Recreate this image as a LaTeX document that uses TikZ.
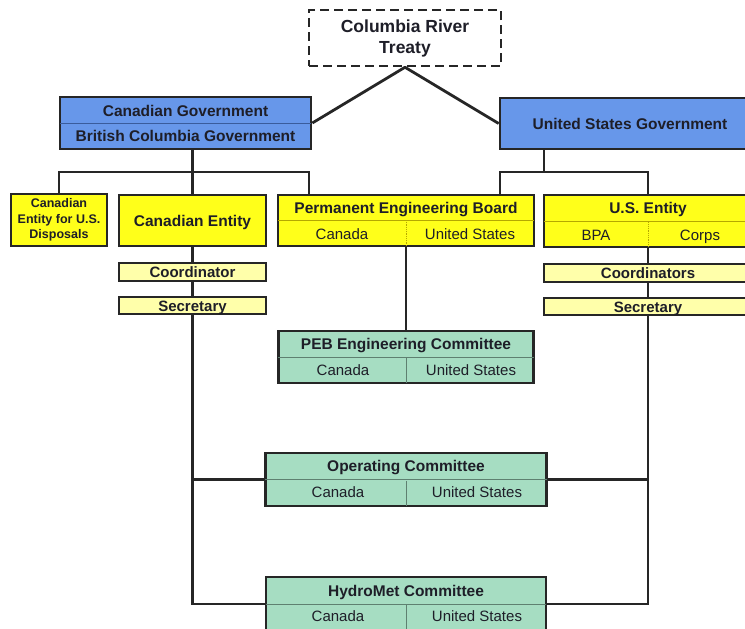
\documentclass[tikz,border=0pt]{standalone}
\usepackage{fontspec}
\setmainfont{Liberation Sans}
\usepackage{tikz}
\usetikzlibrary{backgrounds}
\definecolor{GovBlue}{HTML}{6797EA}
\definecolor{EntityYellow}{HTML}{FFFF1A}
\definecolor{StaffYellow}{HTML}{FFFFAA}
\definecolor{CmteGreen}{HTML}{A6DDC2}
\definecolor{LineDark}{HTML}{262626}
\definecolor{TextDark}{HTML}{1E1E28}
\definecolor{BlueRule}{HTML}{3A5C9C}
\definecolor{YellowRule}{HTML}{B5A800}
\definecolor{GreenRule}{HTML}{5E8070}
\tikzset{
  % Box styles
  govbox/.style={rectangle, draw=LineDark, line width=2.7pt, fill=GovBlue, inner sep=0pt, text=TextDark, text height=11pt, text depth=0pt, font=\bfseries\fontsize{15.5}{18}\selectfont},
  entitybox/.style={govbox, fill=EntityYellow},
  staffbox/.style={govbox, fill=StaffYellow, line width=2pt, font=\bfseries\fontsize{15}{17}\selectfont},
  cmtebox/.style={govbox, fill=CmteGreen},
  treatybox/.style={rectangle, draw=LineDark, line width=2.5pt, dash pattern=on 9pt off 5pt, fill=white, align=center, text=TextDark, font=\bfseries\fontsize{17.5}{21}\selectfont},
  % Text styles
  headtext/.style={inner sep=0pt, text=TextDark, text height=11pt, text depth=0pt, font=\bfseries\fontsize{15.5}{18}\selectfont},
  celltext/.style={inner sep=0pt, text=TextDark, text height=11pt, text depth=0pt, font=\fontsize{15}{18}\selectfont},
  % Line styles
  link/.style={line width=2.8pt, draw=LineDark},
  bluerule/.style={line width=0.8pt, draw=BlueRule, shorten <=1.3pt, shorten >=1.3pt},
  yellowrule/.style={line width=0.8pt, draw=YellowRule, shorten <=1.3pt, shorten >=1.3pt},
  greenrule/.style={line width=0.8pt, draw=GreenRule, shorten <=1.3pt, shorten >=1.3pt}
}
\begin{document}
\begin{tikzpicture}[x=1pt, y=-1pt]
  \useasboundingbox (0,0) rectangle (745,629);
  \clip (0,0) rectangle (745,629);

  % Treaty and governments
  \node[treatybox, minimum width=192pt, minimum height=56pt] (treaty) at (405,38) {Columbia River\\Treaty};
  \node[govbox, minimum width=251pt, minimum height=52pt] (cangov) at (185.5,123) {};
  \node[headtext] (cangovtop) at (185.5,110.5) {Canadian Government};
  \node[headtext] (cangovbot) at (185.5,136) {British Columbia Government};
  \node[govbox, minimum width=260pt, minimum height=51pt] (usgov) at (630,123.5) {United States Government};

  % Entities and board
  \node[entitybox, minimum width=96pt, minimum height=52pt, align=center, text height=, text depth=, font=\bfseries\fontsize{12.5}{15.5}\selectfont] (candisp) at (59,220) {Canadian\\Entity for U.S.\\Disposals};
  \node[entitybox, minimum width=147pt, minimum height=51pt] (canent) at (192.5,220.5) {Canadian Entity};
  \node[entitybox, minimum width=256pt, minimum height=51pt] (peb) at (406,220.5) {};
  \node[headtext] (pebhead) at (406,208) {Permanent Engineering Board};
  \node[celltext] (pebca) at (342,234) {Canada};
  \node[celltext] (pebus) at (470,234) {United States};
  \node[entitybox, minimum width=208pt, minimum height=52pt] (usent) at (648,221) {};
  \node[headtext] (usenthead) at (648,208) {U.S. Entity};
  \node[celltext] (usentbpa) at (596,235) {BPA};
  \node[celltext] (usentcorps) at (700,235) {Corps};

  % Coordinators and secretaries
  \node[staffbox, minimum width=147pt, minimum height=18pt] (cancoord) at (192.5,272) {Coordinator};
  \node[staffbox, minimum width=147pt, minimum height=17pt] (cansec) at (192.5,305.5) {Secretary};
  \node[staffbox, minimum width=208pt, minimum height=18pt] (uscoord) at (648,273) {Coordinators};
  \node[staffbox, minimum width=208pt, minimum height=17pt] (ussec) at (648,306.5) {Secretary};

  % Committees
  \node[cmtebox, minimum width=255pt, minimum height=52pt] (pebcmte) at (406,357) {};
  \node[headtext] (pebcmtehead) at (406,344) {PEB Engineering Committee};
  \node[celltext] (pebcmteca) at (343,369.5) {Canada};
  \node[celltext] (pebcmteus) at (471,369.5) {United States};
  \node[cmtebox, minimum width=281pt, minimum height=53pt] (opcmte) at (406,479.5) {};
  \node[headtext] (opcmtehead) at (406,466) {Operating Committee};
  \node[celltext] (opcmteca) at (338,491.5) {Canada};
  \node[celltext] (opcmteus) at (477,491.5) {United States};
  \node[cmtebox, minimum width=280pt, minimum height=54pt] (hydro) at (406,604) {};
  \node[headtext] (hydrohead) at (406,590.5) {HydroMet Committee};
  \node[celltext] (hydroca) at (338,616) {Canada};
  \node[celltext] (hydrous) at (477,616) {United States};

  % Dividers inside the boxes
  \draw[bluerule] (cangov.west) -- (cangov.east);
  \draw[yellowrule] (peb.west) -- (peb.east);
  \draw[yellowrule, densely dotted] (peb.center) -- (peb.south);
  \draw[yellowrule] (usent.west) -- (usent.east);
  \draw[yellowrule, densely dotted] (usent.center) -- (usent.south);
  \foreach \cmte in {pebcmte, opcmte, hydro} {
    \draw[greenrule] (\cmte.west) -- (\cmte.east);
    \draw[greenrule] (\cmte.center) -- (\cmte.south);
  }

  % Bus points
  \coordinate (canbus) at (192.5,172);
  \coordinate (pebcandrop) at (309,195);
  \coordinate (usbus) at (544,172);
  \coordinate (pebusdrop) at (500,195);

  % Connectors
  \begin{scope}[on background layer]
    \draw[link] (cangov.east) -- (treaty.south) -- (usgov.west);
    \draw[link] (cangov.south -| canbus) -- (canent.north);
    \draw[link] (candisp.north) |- (canbus) -| (pebcandrop);
    \draw[link] (usgov.south -| usbus) -- (usbus);
    \draw[link] (pebusdrop) |- (usbus) -| (usent.north);
    \draw[link] (peb.south) -- (pebcmte.north);
    \draw[link] (canent.south) |- (hydro.west);
    \draw[link] (opcmte.west) -- (opcmte.west -| canent.south);
    \draw[link] (usent.south) |- (hydro.east);
    \draw[link] (opcmte.east) -- (opcmte.east -| usent.south);
  \end{scope}
\end{tikzpicture}
\end{document}
